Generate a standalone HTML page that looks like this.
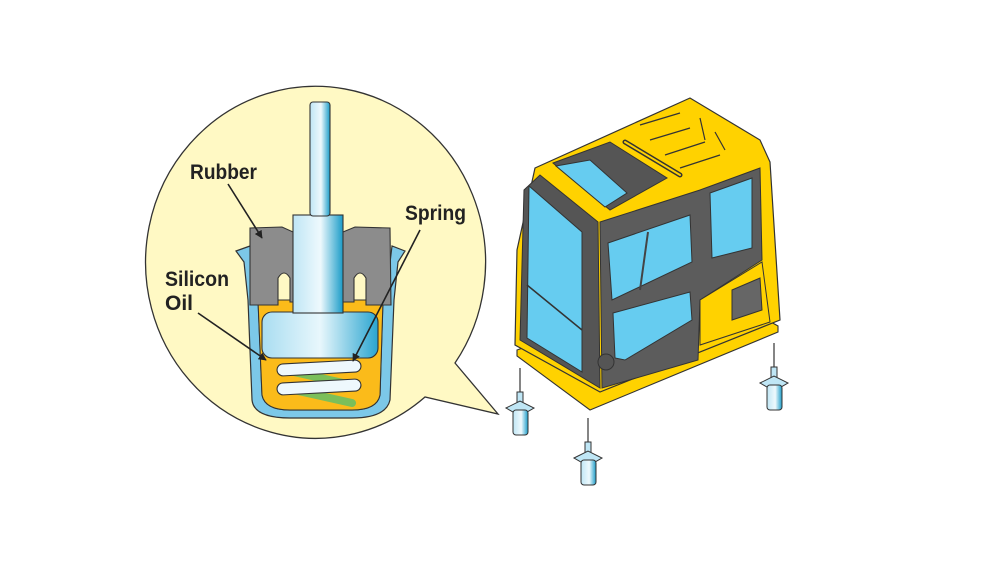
<!DOCTYPE html>
<html><head><meta charset="utf-8"><style>
html,body{margin:0;padding:0;background:#fff;}
svg{display:block;}
text{font-family:"Liberation Sans",sans-serif;font-weight:bold;font-size:21px;fill:#222;}
</style></head><body>
<svg width="1008" height="588" viewBox="0 0 1008 588" xmlns="http://www.w3.org/2000/svg">
<defs>
<linearGradient id="bl" x1="0" x2="1"><stop offset="0" stop-color="#bfe6f5"/><stop offset="0.55" stop-color="#eef9fd"/><stop offset="1" stop-color="#1a9cc8"/></linearGradient>
<linearGradient id="bl2" x1="0" x2="1"><stop offset="0" stop-color="#a9ddf1"/><stop offset="0.5" stop-color="#e8f7fc"/><stop offset="1" stop-color="#2aa5d0"/></linearGradient>
<marker id="ah" viewBox="0 0 10 10" refX="9" refY="5" markerWidth="5" markerHeight="5" orient="auto"><path d="M0,0 L10,5 L0,10 z" fill="#222"/></marker>
</defs>
<!-- bubble -->
<path d="M425,397 A170,176 0 1 1 455,363 L498,414 Z" fill="#fff9c4" stroke="#333" stroke-width="1.3"/>
<!-- housing cup -->
<path d="M236,251 L250,246 L256,296 L258,300 L262,395 Q265,410 290,410 L352,410 Q377,410 380,395 L383,300 L386,296 L392,246 L405,251 L398,262 L394,300 L390,400 Q386,418 352,418 L290,418 Q254,418 252,400 L248,300 L244,262 Z" fill="#7cc8e8" stroke="#333" stroke-width="1.2"/>
<!-- oil -->
<path d="M258,300 L383,300 L380,395 Q377,410 352,410 L290,410 Q265,410 262,395 Z" fill="#fbbb1a" stroke="#333" stroke-width="1"/>
<!-- rubber -->
<path d="M250,228 L282,227 L293,232 L343,232 L355,227 L390,228 L391,305 L366,305 L366,278 Q360,268 354,278 L354,302 L290,302 L290,278 Q284,268 278,278 L278,305 L250,305 Z" fill="#8c8c8c" stroke="#333" stroke-width="1.1"/>
<!-- piston disc -->
<rect x="262" y="312" width="116" height="46" rx="10" fill="url(#bl2)" stroke="#333" stroke-width="1.1"/>
<!-- cylinder and rod -->
<rect x="293" y="215" width="50" height="98" fill="url(#bl)" stroke="#333" stroke-width="1.1"/>
<rect x="310" y="102" width="20" height="114" rx="3" fill="url(#bl)" stroke="#333" stroke-width="1.1"/>
<!-- springs -->
<path d="M285,370 L352,385 M285,388 L352,403" stroke="#7bbf5a" stroke-width="8" stroke-linecap="round"/>
<rect x="277" y="362" width="84" height="12" rx="6" fill="#eef8fd" stroke="#333" stroke-width="1.1" transform="rotate(-3 319 368)"/>
<rect x="277" y="381" width="84" height="12" rx="6" fill="#eef8fd" stroke="#333" stroke-width="1.1" transform="rotate(-3 319 387)"/>
<!-- labels -->
<text x="190" y="179" textLength="67" lengthAdjust="spacingAndGlyphs">Rubber</text>
<text x="405" y="220" textLength="61" lengthAdjust="spacingAndGlyphs">Spring</text>
<text x="165" y="286" textLength="64" lengthAdjust="spacingAndGlyphs">Silicon</text>
<text x="165" y="310" textLength="28" lengthAdjust="spacingAndGlyphs">Oil</text>
<g stroke="#222" stroke-width="1.6" fill="none" marker-end="url(#ah)">
<line x1="228" y1="184" x2="262" y2="238"/>
<line x1="420" y1="230" x2="353" y2="361"/>
<line x1="198" y1="313" x2="266" y2="360"/>
</g>
<!-- cab base plate -->
<path d="M517,350 L705,285 L778,326 L778,332 L590,410 L517,356 Z" fill="#ffd200" stroke="#333" stroke-width="1.1"/>
<!-- cab body -->
<path d="M515,345 L517,250 L535,168 L690,98 L760,140 L770,162 L780,320 L600,392 Z" fill="#ffd200" stroke="#333" stroke-width="1.2"/>
<!-- front dark frame -->
<path d="M520,340 L524,190 L540,175 L598,222 L600,388 Z" fill="#555" stroke="#333"/>
<path d="M527,338 L529,186 L582,232 L582,372 Z" fill="#66ccf0" stroke="#333"/>
<line x1="527" y1="285" x2="582" y2="330" stroke="#333" stroke-width="1.5"/>
<!-- side dark area -->
<path d="M600,222 L700,190 L760,168 L762,260 L700,300 L698,360 L602,388 Z" fill="#5c5c5c" stroke="#333"/>
<path d="M608,243 L690,215 L692,262 L612,300 Z" fill="#66ccf0" stroke="#333"/>
<path d="M648,232 L640,290" stroke="#444" stroke-width="2"/>
<path d="M613,313 L690,292 L692,320 L625,360 L615,358 Z" fill="#66ccf0" stroke="#333"/>
<path d="M710,193 L752,178 L752,248 L712,258 Z" fill="#66ccf0" stroke="#333"/>
<path d="M700,300 L762,262 L770,322 L700,345 Z" fill="#ffd200" stroke="#333"/>
<path d="M732,290 L760,278 L762,310 L732,320 Z" fill="#666" stroke="#333"/>
<circle cx="606" cy="362" r="8" fill="#555" stroke="#333"/>
<!-- roof skylight -->
<path d="M553,163 L610,142 L667,178 L610,210 Z" fill="#555" stroke="#333"/>
<path d="M556,166 L590,160 L627,193 L605,207 Z" fill="#66ccf0" stroke="#333"/>
<path d="M625,142 L680,175" stroke="#333" stroke-width="5" stroke-linecap="round"/>
<path d="M625,142 L680,175" stroke="#ffd200" stroke-width="2" stroke-linecap="round"/>
<g fill="none" stroke="#333" stroke-width="1.2">
<path d="M640,125 L680,113 M650,140 L690,128 M665,155 L705,142 M680,168 L720,155 M700,118 L705,140 M715,132 L725,150"/>
</g>
<!-- mounts -->
<g id="m1">
<line x1="520" y1="368" x2="520" y2="398" stroke="#333" stroke-width="1.2"/>
<rect x="517" y="392" width="6" height="12" fill="#bfe6f5" stroke="#333"/>
<path d="M506,408 L520,401 L534,408 L520,416 Z" fill="#bfe6f5" stroke="#333"/>
<rect x="513" y="410" width="15" height="25" rx="3" fill="url(#bl)" stroke="#333"/>
</g>
<use href="#m1" transform="translate(68,50)"/>
<use href="#m1" transform="translate(254,-25)"/>
</svg>
</body></html>
